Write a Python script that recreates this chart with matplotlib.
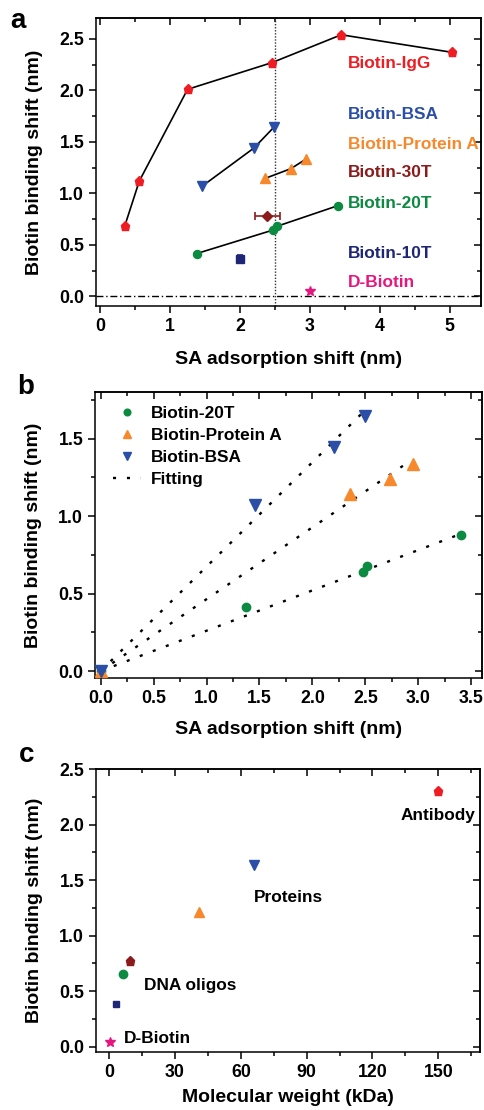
import matplotlib
matplotlib.use('Agg')
import matplotlib.pyplot as plt
from matplotlib.ticker import MultipleLocator

plt.rcParams['font.family'] = ['Liberation Sans', 'DejaVu Sans']
plt.rcParams['font.weight'] = 'bold'
plt.rcParams['axes.labelweight'] = 'bold'
plt.rcParams['axes.linewidth'] = 1.1

# colours
C_IGG = '#ee1d23'
C_BSA = '#2b4fa6'
C_PROTA = '#f7882c'
C_30T = '#8c1c1c'
C_20T = '#0b8a42'
C_10T = '#1e2675'
C_DBIO = '#e5177e'

# =========================
# panel a data
# =========================
igg_x = [0.35, 0.56, 1.25, 2.46, 3.45, 5.03]
igg_y = [0.68, 1.12, 2.01, 2.27, 2.54, 2.37]
bsa_x = [1.46, 2.20, 2.49]
bsa_y = [1.07, 1.44, 1.645]
prota_x = [2.36, 2.73, 2.95]
prota_y = [1.145, 1.24, 1.335]
t30_x, t30_y, t30_xerr = [2.39], [0.78], [0.18]
t20_x = [1.38, 2.48, 2.53, 3.40]
t20_y = [0.415, 0.645, 0.68, 0.88]
t10_x, t10_y, t10_yerr = [2.0], [0.36], [0.04]
dbio_x, dbio_y = [3.0], [0.055]
vline_a = 2.5

labels_a = ['Biotin-IgG', 'Biotin-BSA', 'Biotin-Protein A', 'Biotin-30T',
            'Biotin-20T', 'Biotin-10T', 'D-Biotin']
labels_a_y = [2.26, 1.77, 1.47, 1.20, 0.90, 0.42, 0.13]
labels_a_c = [C_IGG, C_BSA, C_PROTA, C_30T, C_20T, C_10T, C_DBIO]

# =========================
# panel b data
# =========================
b20_x = [0.0, 1.37, 2.48, 2.52, 3.40]
b20_y = [0.0, 0.415, 0.64, 0.68, 0.88]
bpa_x = [0.0, 2.36, 2.73, 2.95]
bpa_y = [0.0, 1.145, 1.24, 1.335]
bbsa_x = [0.0, 1.46, 2.20, 2.50]
bbsa_y = [0.0, 1.07, 1.445, 1.645]
# fitted lines (start, end)
fit20_x, fit20_y = [0.0, 3.40], [0.0, 0.885]
fitpa_x, fitpa_y = [0.0, 2.92], [0.0, 1.355]
fitbsa_x, fitbsa_y = [0.0, 2.47], [0.0, 1.665]

# =========================
# panel c data
# =========================
mw = [0.24, 3.0, 6.3, 9.5, 41.0, 66.0, 150.0]
mw_shift = [0.045, 0.385, 0.655, 0.775, 1.215, 1.64, 2.30]
mw_marker = ['*', 's', 'o', 'p', '^', 'v', 'p']
mw_color = [C_DBIO, C_10T, C_20T, C_30T, C_PROTA, C_BSA, C_IGG]
mw_ms = [7.5, 5.0, 6.0, 6.5, 7.5, 7.5, 6.5]
groups_c = ['Antibody', 'Proteins', 'DNA oligos', 'D-Biotin']
groups_c_x = [133.0, 66.0, 15.8, 6.7]
groups_c_y = [2.08, 1.34, 0.55, 0.07]

W, H = 485, 1110
fig = plt.figure(figsize=(W / 100, H / 100), dpi=100)


def box(l, r, t, b):
    return [l / W, 1 - b / H, (r - l) / W, (b - t) / H]


def style_axes(ax, xmaj, xmin, ymaj, ymin):
    ax.xaxis.set_major_locator(MultipleLocator(xmaj))
    ax.xaxis.set_minor_locator(MultipleLocator(xmin))
    ax.yaxis.set_major_locator(MultipleLocator(ymaj))
    ax.yaxis.set_minor_locator(MultipleLocator(ymin))
    ax.tick_params(which='major', direction='out', length=5, width=1.1,
                   labelsize=12.8, pad=3.5)
    ax.tick_params(which='minor', direction='out', length=3, width=1.1)
    # mirrored ticks pointing inward on top / right
    top = ax.secondary_xaxis('top')
    right = ax.secondary_yaxis('right')
    for sec, axis in ((top, top.xaxis), (right, right.yaxis)):
        axis.set_major_locator(MultipleLocator(xmaj if sec is top else ymaj))
        axis.set_minor_locator(MultipleLocator(xmin if sec is top else ymin))
        sec.tick_params(which='major', direction='in', length=5, width=1.1,
                        labelleft=False, labelright=False, labeltop=False,
                        labelbottom=False)
        sec.tick_params(which='minor', direction='in', length=3, width=1.1)
        for sp in sec.spines.values():
            sp.set_linewidth(1.1)
    for lab in ax.get_xticklabels() + ax.get_yticklabels():
        lab.set_fontweight('bold')


# ---------------- panel a ----------------
ax1 = fig.add_axes(box(96, 481, 18.3, 306))
ax1.set_xlim(-0.06, 5.45)
ax1.set_ylim(-0.094, 2.70)
style_axes(ax1, 1, 0.5, 0.5, 0.25)

ax1.axvline(vline_a, color='#333333', lw=1.0, ls=(0, (1, 1.2)), zorder=1)
ax1.axhline(0, color='black', lw=1.0, ls=(0, (5, 2, 1, 2)), zorder=1)

ax1.plot(igg_x, igg_y, '-', color='black', lw=1.2, zorder=2)
ax1.plot(igg_x, igg_y, 'p', color=C_IGG, ms=6.5, mec=C_IGG, zorder=3)
ax1.plot(bsa_x, bsa_y, '-', color='black', lw=1.2, zorder=2)
ax1.plot(bsa_x, bsa_y, 'v', color=C_BSA, ms=7, zorder=3)
ax1.plot(prota_x, prota_y, '-', color='black', lw=1.2, zorder=2)
ax1.plot(prota_x, prota_y, '^', color=C_PROTA, ms=7, zorder=3)
ax1.plot(t20_x, t20_y, '-', color='black', lw=1.2, zorder=2)
ax1.plot(t20_x, t20_y, 'o', color=C_20T, ms=5.8, zorder=3)
ax1.errorbar(t30_x, t30_y, xerr=t30_xerr, fmt='D', color=C_30T, ms=5.5,
             capsize=3, elinewidth=1.2, capthick=1.2, zorder=3)
ax1.errorbar(t10_x, t10_y, yerr=t10_yerr, fmt='s', color=C_10T, ms=5.2,
             capsize=2.5, elinewidth=1.2, capthick=1.2, zorder=3)
ax1.plot(dbio_x, dbio_y, '*', color=C_DBIO, ms=7.5, zorder=3)

for txt, ty, tc in zip(labels_a, labels_a_y, labels_a_c):
    ax1.text(3.54, ty, txt, color=tc, fontsize=12.4, fontweight='bold',
             ha='left', va='center')

ax1.set_xlabel('SA adsorption shift (nm)', fontsize=14, labelpad=12)
ax1.set_ylabel('Biotin binding shift (nm)', fontsize=14, labelpad=12)
fig.text(17.5 / W, 1 - 20.5 / H, 'a', fontsize=20, fontweight='bold',
         ha='center', va='center')

# ---------------- panel b ----------------
ax2 = fig.add_axes(box(95, 481.7, 392.3, 678.3))
ax2.set_xlim(-0.054, 3.6)
ax2.set_ylim(-0.047, 1.80)
style_axes(ax2, 0.5, 0.25, 0.5, 0.25)

dots = (0, (1.3, 4.6))
ax2.plot(fit20_x, fit20_y, color='black', lw=1.7, ls=dots, zorder=2)
ax2.plot(fitpa_x, fitpa_y, color='black', lw=1.7, ls=dots, zorder=2)
hfit, = ax2.plot(fitbsa_x, fitbsa_y, color='black', lw=1.7, ls=dots,
                 zorder=2)
h20, = ax2.plot(b20_x, b20_y, 'o', color=C_20T, ms=6, zorder=3)
hpa, = ax2.plot(bpa_x, bpa_y, '^', color=C_PROTA, ms=8, zorder=3)
hbsa, = ax2.plot(bbsa_x, bbsa_y, 'v', color=C_BSA, ms=8, zorder=3)
ax2.legend([h20, hpa, hbsa, hfit],
           ['Biotin-20T', 'Biotin-Protein A', 'Biotin-BSA', 'Fitting'],
           loc='upper left', bbox_to_anchor=(0.02, 0.99), frameon=False,
           fontsize=12.4, handlelength=1.6, handletextpad=0.6,
           labelspacing=0.42, borderaxespad=0.2, markerscale=0.8)

ax2.set_xlabel('SA adsorption shift (nm)', fontsize=14, labelpad=10)
ax2.set_ylabel('Biotin binding shift (nm)', fontsize=14, labelpad=12)
fig.text(25.5 / W, 1 - 387 / H, 'b', fontsize=20, fontweight='bold',
         ha='center', va='center')

# ---------------- panel c ----------------
ax3 = fig.add_axes(box(96, 480, 769, 1052.3))
ax3.set_xlim(-6, 169)
ax3.set_ylim(-0.05, 2.5)
style_axes(ax3, 30, 15, 0.5, 0.25)

for x, y, m, c, s in zip(mw, mw_shift, mw_marker, mw_color, mw_ms):
    ax3.plot([x], [y], m, color=c, ms=s, zorder=3)
for txt, tx, ty in zip(groups_c, groups_c_x, groups_c_y):
    ax3.text(tx, ty, txt, fontsize=12.4, fontweight='bold', ha='left',
             va='center', color='black')

ax3.set_xlabel('Molecular weight (kDa)', fontsize=14, labelpad=6)
ax3.set_ylabel('Biotin binding shift (nm)', fontsize=14, labelpad=12)
fig.text(27 / W, 1 - 755 / H, 'c', fontsize=20, fontweight='bold',
         ha='center', va='center')

fig.savefig('out.png', dpi=100)
